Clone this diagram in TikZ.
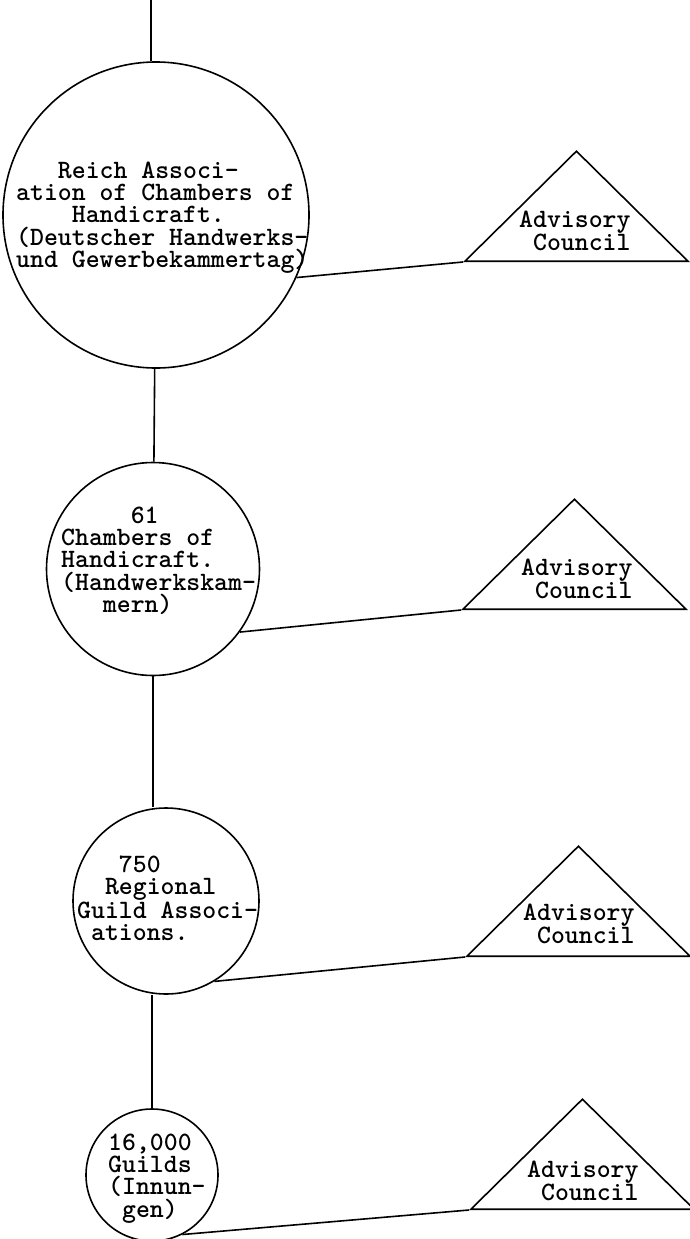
\documentclass[tikz,border=0pt]{standalone}
\usepackage{fontspec}
\usetikzlibrary{shapes.geometric,positioning,calc}
\newcommand{\colskip}[1]{\hspace*{\dimexpr#1\fontdimen2\font\relax}}
\tikzset{
    orgcircle/.style={draw, circle, line width=1.6pt, inner sep=0pt},
    council/.style={draw, isosceles triangle, shape border rotate=90, isosceles triangle stretches,
        minimum width=223pt, minimum height=110pt, inner sep=0pt, line width=1.6pt},
    typed/.style={font=\ttfamily\bfseries\fontsize{26.5}{22.3}\selectfont, align=left, inner sep=0pt, anchor=north west},
    link/.style={line width=1.6pt}
}
\begin{document}
\begin{tikzpicture}[x=1pt, y=-1pt]
    \useasboundingbox (0,0) rectangle (689,1239);
    \node[orgcircle, minimum size=306pt] (reich) at (156,215) {};
    \node[orgcircle, minimum size=213pt] (chambers) at (153,569) {};
    \node[orgcircle, minimum size=186pt] (regional) at (166,901) {};
    \node[orgcircle, minimum size=132pt] (guilds) at (152,1175) {};

    \node[council, anchor=left corner] (adv1) at (463,262) {};
    \node[council, anchor=left corner] (adv2) at (461,610) {};
    \node[council, anchor=left corner] (adv3) at (465,957) {};
    \node[council, anchor=left corner] (adv4) at (469,1210) {};

    \node[typed] (reichtext) at (16,161.5) {\colskip{3}Reich Associ-\\ation of Chambers of\\\colskip{4}Handicraft.\\(Deutscher Handwerks-\\und Gewerbekammertag)};
    \node[typed] (chamberstext) at (61,506.5) {\colskip{5}61\\Chambers of\\Handicraft.\\(Handwerkskam-\\\colskip{3}mern)};
    \node[typed] (regionaltext) at (77,855.5) {\colskip{3}750\\\colskip{2}Regional\\Guild Associ-\\\colskip{1}ations.};
    \node[typed] (guildstext) at (108,1133.5) {16,000\\Guilds\\(Innun-\\\colskip{1}gen)};
    \node[typed] (adv1text) at (519,210.5) {Advisory\\\colskip{1}Council};
    \node[typed] (adv2text) at (521,558.5) {Advisory\\\colskip{1}Council};
    \node[typed] (adv3text) at (523,903.5) {Advisory\\\colskip{1}Council};
    \node[typed] (adv4text) at (527,1160.5) {Advisory\\\colskip{1}Council};

    \coordinate (top) at (151,0);
    \draw[link] (top) -- (top |- reich.north);
    \draw[link] (reich) -- (chambers);
    \draw[link] (chambers.south) -- (chambers.south |- regional.north);
    \draw[link] (guilds.north) -- (guilds.north |- regional.south);
    \draw[link] (reich.-24) -- (adv1.left corner);
    \draw[link] (chambers.-36) -- (adv2.left corner);
    \draw[link] (regional.-59) -- (adv3.left corner);
    \draw[link] (guilds.-63) -- (adv4.left corner);
\end{tikzpicture}
\end{document}
